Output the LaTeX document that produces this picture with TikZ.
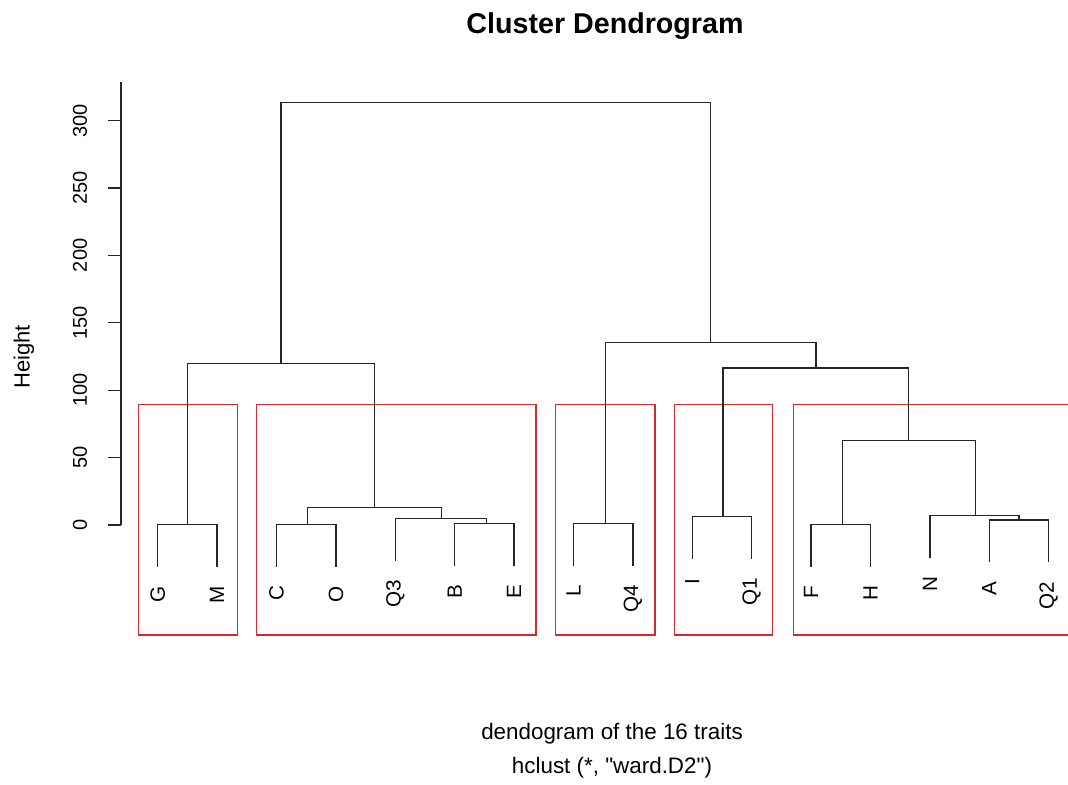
\documentclass[tikz,border=0pt]{standalone}
\usepackage{fontspec}
\setmainfont{Liberation Sans}[Ligatures=TeXOff]
\begin{document}
\begin{tikzpicture}[x=0.75pt,y=-0.75pt,
  branch/.style={draw=black!85,line width=1pt},
  clusterbox/.style={draw={rgb,255:red,205;green,45;blue,45},line width=1pt},
  leaflabel/.style={rotate=90,anchor=east,inner sep=0pt,font=\fontsize{15.5}{18}\selectfont},
  ticklabel/.style={rotate=90,anchor=center,inner sep=0pt,font=\fontsize{15}{18}\selectfont},
  axisline/.style={draw=black!85,line width=1pt}]
\useasboundingbox[fill=white] (0,0) rectangle (1068,785);
% title and subtitle
\node[font=\fontsize{21.5}{26}\selectfont\bfseries] (title) at (605,26) {Cluster Dendrogram};
\node[font=\fontsize{16.8}{25.5}\selectfont,align=center] (sub) at (612,751) {dendogram of the 16 traits\\hclust (*, "ward.D2")};
% y axis
\coordinate (ax0) at (121,525);
\coordinate (axtop) at (121,82);
\draw[axisline] (axtop) -- (ax0);
\foreach \v in {0,50,...,300}{
  \coordinate (tk\v) at (121,{525-1.348*\v});
  \coordinate (tl\v) at (108,{525-1.348*\v});
  \draw[axisline] (tk\v) -- (tl\v);
  \node[ticklabel] (lab\v) at (80,{525-1.348*\v}) {\v};
}
\node[rotate=90,inner sep=0pt,font=\fontsize{16.5}{20}\selectfont] (ylab) at (24,357) {Height};
% red boxes
\draw[clusterbox] (138.3,404.3) rectangle (237.3,635);
\draw[clusterbox] (256.7,404.3) rectangle (536,635);
\draw[clusterbox] (555.7,404.3) rectangle (655,635);
\draw[clusterbox] (674.3,404.3) rectangle (772.3,635);
\draw[clusterbox] (1070,404.3) -- (793.3,404.3) -- (793.3,635) -- (1070,635);
% merge points (x = midpoint of children, y = height)
\coordinate (mGM) at (187.7,524.3);
\coordinate (mCO) at (307.7,524.3);
\coordinate (mBE) at (486.3,523.3);
\coordinate (mQ3BE) at (441.5,518.3);
\coordinate (mCOQ) at (374.6,507.7);
\coordinate (mLeft) at (281.1,363.5);
\coordinate (mLQ4) at (605.8,523.3);
\coordinate (mIQ1) at (723.0,516.7);
\coordinate (mFH) at (842.3,524.3);
\coordinate (mAQ2) at (1019.0,520.0);
\coordinate (mNAQ2) at (975.2,515.3);
\coordinate (mFHN) at (908.8,440.3);
\coordinate (mIQ1R) at (815.9,368.0);
\coordinate (mRight) at (710.8,342.7);
\coordinate (mRoot) at (496.0,102.7);
% leaves: name, index, parent height (px)
\foreach \n/\i/\p in {G/0/524.3, M/1/524.3, C/2/524.3, O/3/524.3, Q3/4/518.3, B/5/523.3, E/6/523.3,
  L/7/523.3, Q4/8/523.3, I/9/516.7, Q1/10/516.7, F/11/524.3, H/12/524.3, N/13/515.3, A/14/520.0, Q2/15/520.0}{
  \coordinate (t\n) at ({157.7+59.4*\i},{\p+42.4});
  \node[leaflabel] (l\n) at ({157.7+59.4*\i},{\p+42.4+19}) {\n};
}
% branches
\draw[branch] (tG) |- (mGM) -| (tM);
\draw[branch] (tC) |- (mCO) -| (tO);
\draw[branch] (tB) |- (mBE) -| (tE);
\draw[branch] (tQ3) |- (mQ3BE) -| (mBE);
\draw[branch] (mCO) |- (mCOQ) -| (mQ3BE);
\draw[branch] (mGM) |- (mLeft) -| (mCOQ);
\draw[branch] (tL) |- (mLQ4) -| (tQ4);
\draw[branch] (tI) |- (mIQ1) -| (tQ1);
\draw[branch] (tF) |- (mFH) -| (tH);
\draw[branch] (tA) |- (mAQ2) -| (tQ2);
\draw[branch] (tN) |- (mNAQ2) -| (mAQ2);
\draw[branch] (mFH) |- (mFHN) -| (mNAQ2);
\draw[branch] (mIQ1) |- (mIQ1R) -| (mFHN);
\draw[branch] (mLQ4) |- (mRight) -| (mIQ1R);
\draw[branch] (mLeft) |- (mRoot) -| (mRight);
\end{tikzpicture}
\end{document}
